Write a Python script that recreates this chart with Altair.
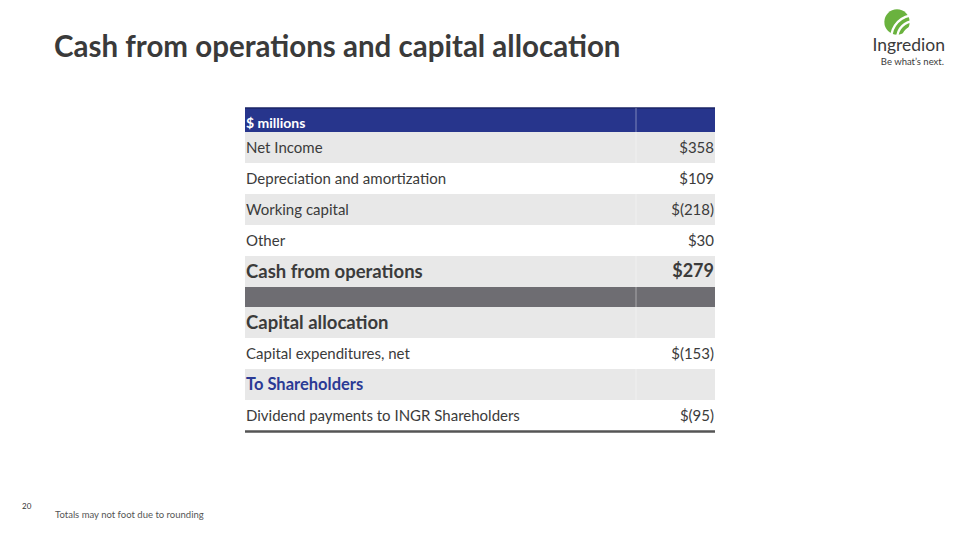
import altair as alt
import pandas as pd

# ---------------- data ----------------
title_text = "Cash from operations and capital allocation"
header_label = "$ millions"
labels = [
    "Net Income",
    "Depreciation and amortization",
    "Working capital",
    "Other",
    "Cash from operations",
    "",
    "Capital allocation",
    "Capital expenditures, net",
    "To Shareholders",
    "Dividend payments to INGR Shareholders",
]
values = [358, 109, -218, 30, 279, None, None, -153, None, -95]
kinds = ["item", "item", "item", "item", "total", "spacer", "section", "item", "subsection", "item"]
footnote = "Totals may not foot due to rounding"
page_number = "20"
logo_name = "Ingredion"
logo_tag = "Be what\u2019s next."

# ---------------- layout ----------------
W, H = 944, 524
FONT = "Lato"
TXT = "#3b3b3b"
NAVY = "#27358c"
GRAY = "#e8e8e8"
DARK = "#6e6d72"
X0, X1, XDIV = 245, 715, 636
TOP, HEAD_H, ROW_H, SPACER_H = 108, 24, 31, 20

xs = alt.Scale(domain=[8, 8 + W], range=[0, W], zero=False, nice=False)
ys = alt.Scale(domain=[8, 8 + H], range=[0, H], zero=False, nice=False)


def fmt(v):
    if v is None:
        return ""
    return f"${v}" if v >= 0 else f"$({-v})"


rows = []
y = TOP + HEAD_H
for i, (lab, val, kind) in enumerate(zip(labels, values, kinds)):
    h = SPACER_H if kind == "spacer" else ROW_H
    fill = DARK if kind == "spacer" else (GRAY if i % 2 == 0 else "#ffffff")
    rows.append(dict(label=lab, value=fmt(val), kind=kind, y0=y, y1=y + h,
                     ym=y + h / 2 + 0.5, x0=X0, x1=X1, xl=X0 + 1, xr=X1 - 1, fill=fill))
    y += h
df = pd.DataFrame(rows)
BOTTOM = y


def X(f):
    return alt.X(f"{f}:Q", scale=xs, axis=None)


def Y(f):
    return alt.Y(f"{f}:Q", scale=ys, axis=None)


base = alt.Chart(df)

row_bg = base.mark_rect().encode(
    x=X("x0"), x2="x1", y=Y("y0"), y2="y1",
    color=alt.Color("fill:N", scale=None),
)

head_df = pd.DataFrame([dict(x0=X0, x1=X1, y0=TOP, y1=TOP + HEAD_H, xt=X0 + 1,
                             yt=TOP + HEAD_H / 2 + 4, t=header_label)])
head_bg = alt.Chart(head_df).mark_rect(color=NAVY).encode(
    x=X("x0"), x2="x1", y=Y("y0"), y2="y1")
head_line = alt.Chart(head_df).mark_rule(color="#1b2466", strokeWidth=1.5).encode(
    x=X("x0"), x2="x1", y=Y("y0"))
head_txt = alt.Chart(head_df).mark_text(
    align="left", baseline="middle", font=FONT, fontWeight="bold", fontSize=14, color="white"
).encode(x=X("xt"), y=Y("yt"), text="t:N")

div_df = pd.DataFrame([dict(x=XDIV, y0=TOP, y1=BOTTOM)])
divider = alt.Chart(div_df).mark_rule(color="white", opacity=0.4, strokeWidth=1).encode(
    x=X("x"), y=Y("y0"), y2="y1")

bot_df = pd.DataFrame([dict(x0=X0, x1=X1, y=BOTTOM + 0.5)])
bottom_rule = alt.Chart(bot_df).mark_rule(color="#555555", strokeWidth=2.5).encode(
    x=X("x0"), x2="x1", y=Y("y"))

item_lbl = base.transform_filter("datum.kind == 'item'").mark_text(
    align="left", baseline="middle", font=FONT, fontSize=15, color=TXT
).encode(x=X("xl"), y=Y("ym"), text="label:N")
item_val = base.transform_filter("datum.kind == 'item'").mark_text(
    align="right", baseline="middle", font=FONT, fontSize=15, color=TXT
).encode(x=X("xr"), y=Y("ym"), text="value:N")
bold_lbl = base.transform_filter("datum.kind == 'total' || datum.kind == 'section'").mark_text(
    align="left", baseline="middle", font=FONT, fontSize=18.5, fontWeight="bold", color=TXT
).encode(x=X("xl"), y=Y("ym"), text="label:N")
bold_val = base.transform_filter("datum.kind == 'total'").mark_text(
    align="right", baseline="middle", font=FONT, fontSize=18, fontWeight="bold", color=TXT
).encode(x=X("xr"), y=Y("ym"), text="value:N")
sub_lbl = base.transform_filter("datum.kind == 'subsection'").mark_text(
    align="left", baseline="middle", font=FONT, fontSize=16.5, fontWeight="bold", color="#2b3a95"
).encode(x=X("xl"), y=Y("ym"), text="label:N")

# titles / footer
misc_df = pd.DataFrame([
    dict(x=54, y=48, t=title_text, k="title"),
    dict(x=55, y=515, t=footnote, k="foot"),
    dict(x=22, y=507, t=page_number, k="page"),
    dict(x=945, y=46, t=logo_name, k="logo"),
    dict(x=944, y=62, t=logo_tag, k="tag"),
])
mb = alt.Chart(misc_df)
title = mb.transform_filter("datum.k == 'title'").mark_text(
    align="left", baseline="middle", font=FONT, fontSize=29.5, fontWeight="bold", color="#3a3a3a"
).encode(x=X("x"), y=Y("y"), text="t:N")
foot = mb.transform_filter("datum.k == 'foot'").mark_text(
    align="left", baseline="middle", font=FONT, fontSize=9.5, color="#555555"
).encode(x=X("x"), y=Y("y"), text="t:N")
page = mb.transform_filter("datum.k == 'page'").mark_text(
    align="left", baseline="middle", font=FONT, fontSize=8, color="#333333"
).encode(x=X("x"), y=Y("y"), text="t:N")
logo_t = mb.transform_filter("datum.k == 'logo'").mark_text(
    align="right", baseline="middle", font=FONT, fontSize=17.5, color="#3a3a3a"
).encode(x=X("x"), y=Y("y"), text="t:N")
tag_t = mb.transform_filter("datum.k == 'tag'").mark_text(
    align="right", baseline="middle", font=FONT, fontSize=9.5, color="#3a3a3a"
).encode(x=X("x"), y=Y("y"), text="t:N")

# logo mark: green disc with white curved stripes
disc_df = pd.DataFrame([dict(x=897, y=22)])
disc = alt.Chart(disc_df).mark_circle(size=640, color="#6ab23e", opacity=1).encode(
    x=X("x"), y=Y("y"))

arc_layers = []
for r in [12, 18, 24]:
    a = alt.Chart(pd.DataFrame([dict(x=914, y=38)])).mark_arc(
        theta=4.5, theta2=6.1, radius=r, radius2=r - 2.4, color="white"
    ).encode(x=X("x"), y=Y("y"))
    arc_layers.append(a)

chart = alt.layer(
    row_bg, head_bg, head_line, divider, bottom_rule,
    head_txt, item_lbl, item_val, bold_lbl, bold_val, sub_lbl,
    title, foot, page, disc, *arc_layers, logo_t, tag_t,
).properties(
    width=W, height=H, autosize=alt.AutoSizeParams(type="none"), padding=0,
    background="white",
).configure_view(stroke=None)

chart.save("out.html", embed_options={"renderer": "svg", "actions": False})
